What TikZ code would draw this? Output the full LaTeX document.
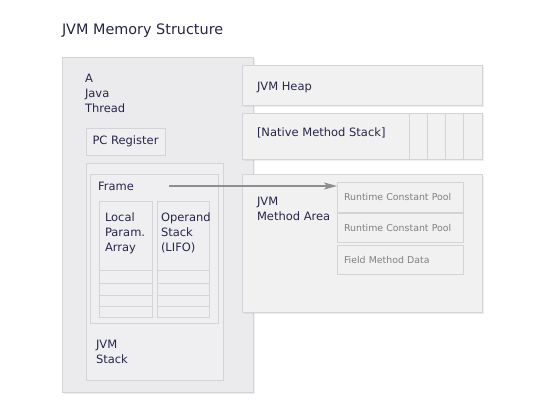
\documentclass[tikz,border=0pt]{standalone}
\usepackage{fontspec}
\setmainfont{DejaVu Sans}
\usetikzlibrary{arrows.meta, positioning, shadows}
\definecolor{ink}{HTML}{262648}
\definecolor{boxline}{HTML}{D4D4D8}
\definecolor{threadfill}{HTML}{EBEBEE}
\definecolor{innerfill}{HTML}{EFEFF2}
\definecolor{panelfill}{HTML}{F2F1F1}
\definecolor{ptrgray}{HTML}{8E8E92}

\begin{document}
\begin{tikzpicture}[
        x=1pt, y=-1pt, >={Stealth[length=13pt,width=7pt,inset=3pt]},
        every node/.style={inner sep=0pt, outer sep=0pt},
        box/.style={draw=boxline, fill=innerfill, line width=.6pt, anchor=north west},
        panel/.style={box, fill=panelfill, drop shadow={opacity=.12, shadow xshift=1.5pt, shadow yshift=-1.5pt}},
        txt/.style={anchor=north west, align=left, text=ink, font=\fontsize{11.5}{15}\selectfont},
        small/.style={box, fill=panelfill, minimum width=126pt, text width=112pt, align=left, text=gray, font=\fontsize{9.4}{12}\selectfont},
        rowline/.style={draw=boxline, line width=.6pt},
        ptr/.style={draw=ptrgray, line width=1.2pt},
        ]
        \useasboundingbox[fill=white] (0,0) rectangle (556,413);

        \node[txt, font=\fontsize{14.4}{17}\selectfont] (title) at (62,24) {JVM Memory Structure};

        % the thread
        \node[panel, fill=threadfill, minimum width=191pt, minimum height=335pt] (thread) at (62,57) {};
        \node[txt] (thread_t) at (85,74) {A\\Java\\Thread};
        \node[box, minimum width=79pt, minimum height=27pt, text=ink, font=\fontsize{11.5}{15}\selectfont] (pcreg) at (86,128) {PC Register};
        \node[box, minimum width=137pt, minimum height=217pt] (jstack) at (86,163) {};
        \node[txt] (jstack_t) at (96,340) {JVM\\Stack};
        \node[box, minimum width=128pt, minimum height=149pt] (frame) at (90,174) {};
        \node[txt] (frame_t) at (98,182) {Frame};
        \node[box, minimum width=53pt, minimum height=116pt] (lpa) at (99,201) {};
        \node[box, minimum width=52pt, minimum height=116pt] (ops) at (157,201) {};
        \node[txt] (lpa_t) at (105,213) {Local\\Param.\\Array};
        \node[txt] (ops_t) at (161,213) {Operand\\Stack\\(LIFO)};
        \foreach \y in {69,82,94,105} {
            \draw[rowline] ([yshift=-\y pt]lpa.north west) -- ([yshift=-\y pt]lpa.north east);
            \draw[rowline] ([yshift=-\y pt]ops.north west) -- ([yshift=-\y pt]ops.north east);
        }

        % shared areas
        \node[panel, minimum width=240pt, minimum height=40pt] (heap) at (242,65) {};
        \node[txt] (heap_t) at (257,82) {JVM Heap};
        \node[panel, minimum width=240pt, minimum height=46pt] (nms) at (242,113) {};
        \node[txt] (nms_t) at (257,128) {[Native Method Stack]};
        \foreach \x in {167,185,203,221}
            \draw[rowline] ([xshift=\x pt]nms.north west) -- ([xshift=\x pt]nms.south west);
        \node[panel, minimum width=240pt, minimum height=138pt] (marea) at (242,174) {};
        \node[txt] (marea_t) at (257,197) {JVM\\Method Area};
        \node[small, minimum height=30pt] (rcp_1) at (337,182) {Runtime Constant Pool};
        \node[small, minimum height=29pt] (rcp_2) at (337,213) {Runtime Constant Pool};
        \node[small, minimum height=29pt] (fmd) at (337,245) {Field Method Data};

        \coordinate (fptr) at (169,186);
        \draw[->, ptr] (fptr) -- (fptr -| rcp_1.west);
      \end{tikzpicture}
\end{document}
